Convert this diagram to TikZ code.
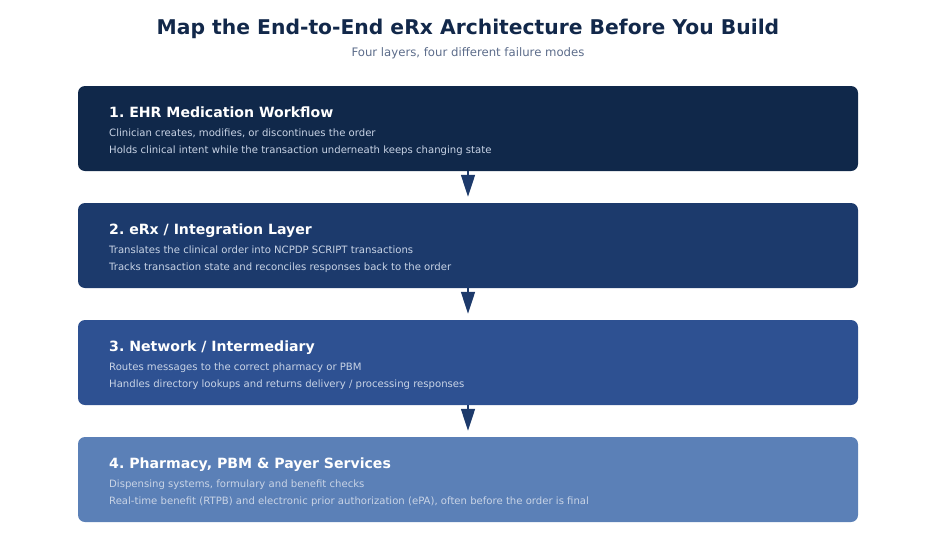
\documentclass[tikz,border=0pt]{standalone}
\usepackage{fontspec}
\setmainfont{DejaVu Sans}
\usepackage{tikz}
\usetikzlibrary{arrows.meta}
\frenchspacing

\definecolor{navy}{HTML}{12284A}
\definecolor{layerA}{HTML}{10284A}
\definecolor{layerB}{HTML}{1C3A6C}
\definecolor{layerC}{HTML}{2E5192}
\definecolor{layerD}{HTML}{5B80B7}
\definecolor{subgray}{HTML}{5C6C8A}
\definecolor{desc}{HTML}{C9D4E6}
\definecolor{flow}{HTML}{1D3A6B}

\begin{document}
\begin{tikzpicture}[x=1pt,y=-1pt,
  layer/.style = {rounded corners=7pt, minimum width=780pt, minimum height=85pt, inner sep=0pt},
  head/.style = {anchor=base west, inner sep=0pt, text=white, font=\fontsize{14.1}{16}\selectfont\bfseries},
  info/.style = {anchor=base west, inner sep=0pt, text=desc, font=\fontsize{10.1}{12}\selectfont},
  flowarrow/.style = {draw=flow, line width=1.5pt, -{Triangle[width=14pt,length=22pt]}, flow, shorten >=6pt}] 
\useasboundingbox (0,0) rectangle (936,546);
\node (title) at (468,29) [text=navy, font=\fontsize{20.3}{23}\selectfont\bfseries] {Map the End-to-End eRx Architecture Before You Build};
\node (sub) at (468,53) [text=subgray, font=\fontsize{11.7}{14}\selectfont] {Four layers, four different failure modes};
% layers
\node[layer, fill=layerA] (l1) at (468,128.5) {};
\node[layer, fill=layerB] (l2) at (468,245.5) {};
\node[layer, fill=layerC] (l3) at (468,362.5) {};
\node[layer, fill=layerD] (l4) at (468,479.5) {};
\node[head] (h1) at (109,117) {1. EHR Medication Workflow};
\node[info] (a1) at (109,136) {Clinician creates, modifies, or discontinues the order};
\node[info] (b1) at (109,153) {Holds clinical intent while the transaction underneath keeps changing state};
\node[head] (h2) at (109,234) {2. eRx / Integration Layer};
\node[info] (a2) at (109,253) {Translates the clinical order into NCPDP SCRIPT transactions};
\node[info] (b2) at (109,270) {Tracks transaction state and reconciles responses back to the order};
\node[head] (h3) at (109,351) {3. Network / Intermediary};
\node[info] (a3) at (109,370) {Routes messages to the correct pharmacy or PBM};
\node[info] (b3) at (109,387) {Handles directory lookups and returns delivery / processing responses};
\node[head] (h4) at (109,468) {4. Pharmacy, PBM \& Payer Services};
\node[info] (a4) at (109,487) {Dispensing systems, formulary and benefit checks};
\node[info] (b4) at (109,504) {Real-time benefit (RTPB) and electronic prior authorization (ePA), often before the order is final};
\draw[flowarrow] (l1) -- (l2);
\draw[flowarrow] (l2) -- (l3);
\draw[flowarrow] (l3) -- (l4);
\end{tikzpicture}
\end{document}
